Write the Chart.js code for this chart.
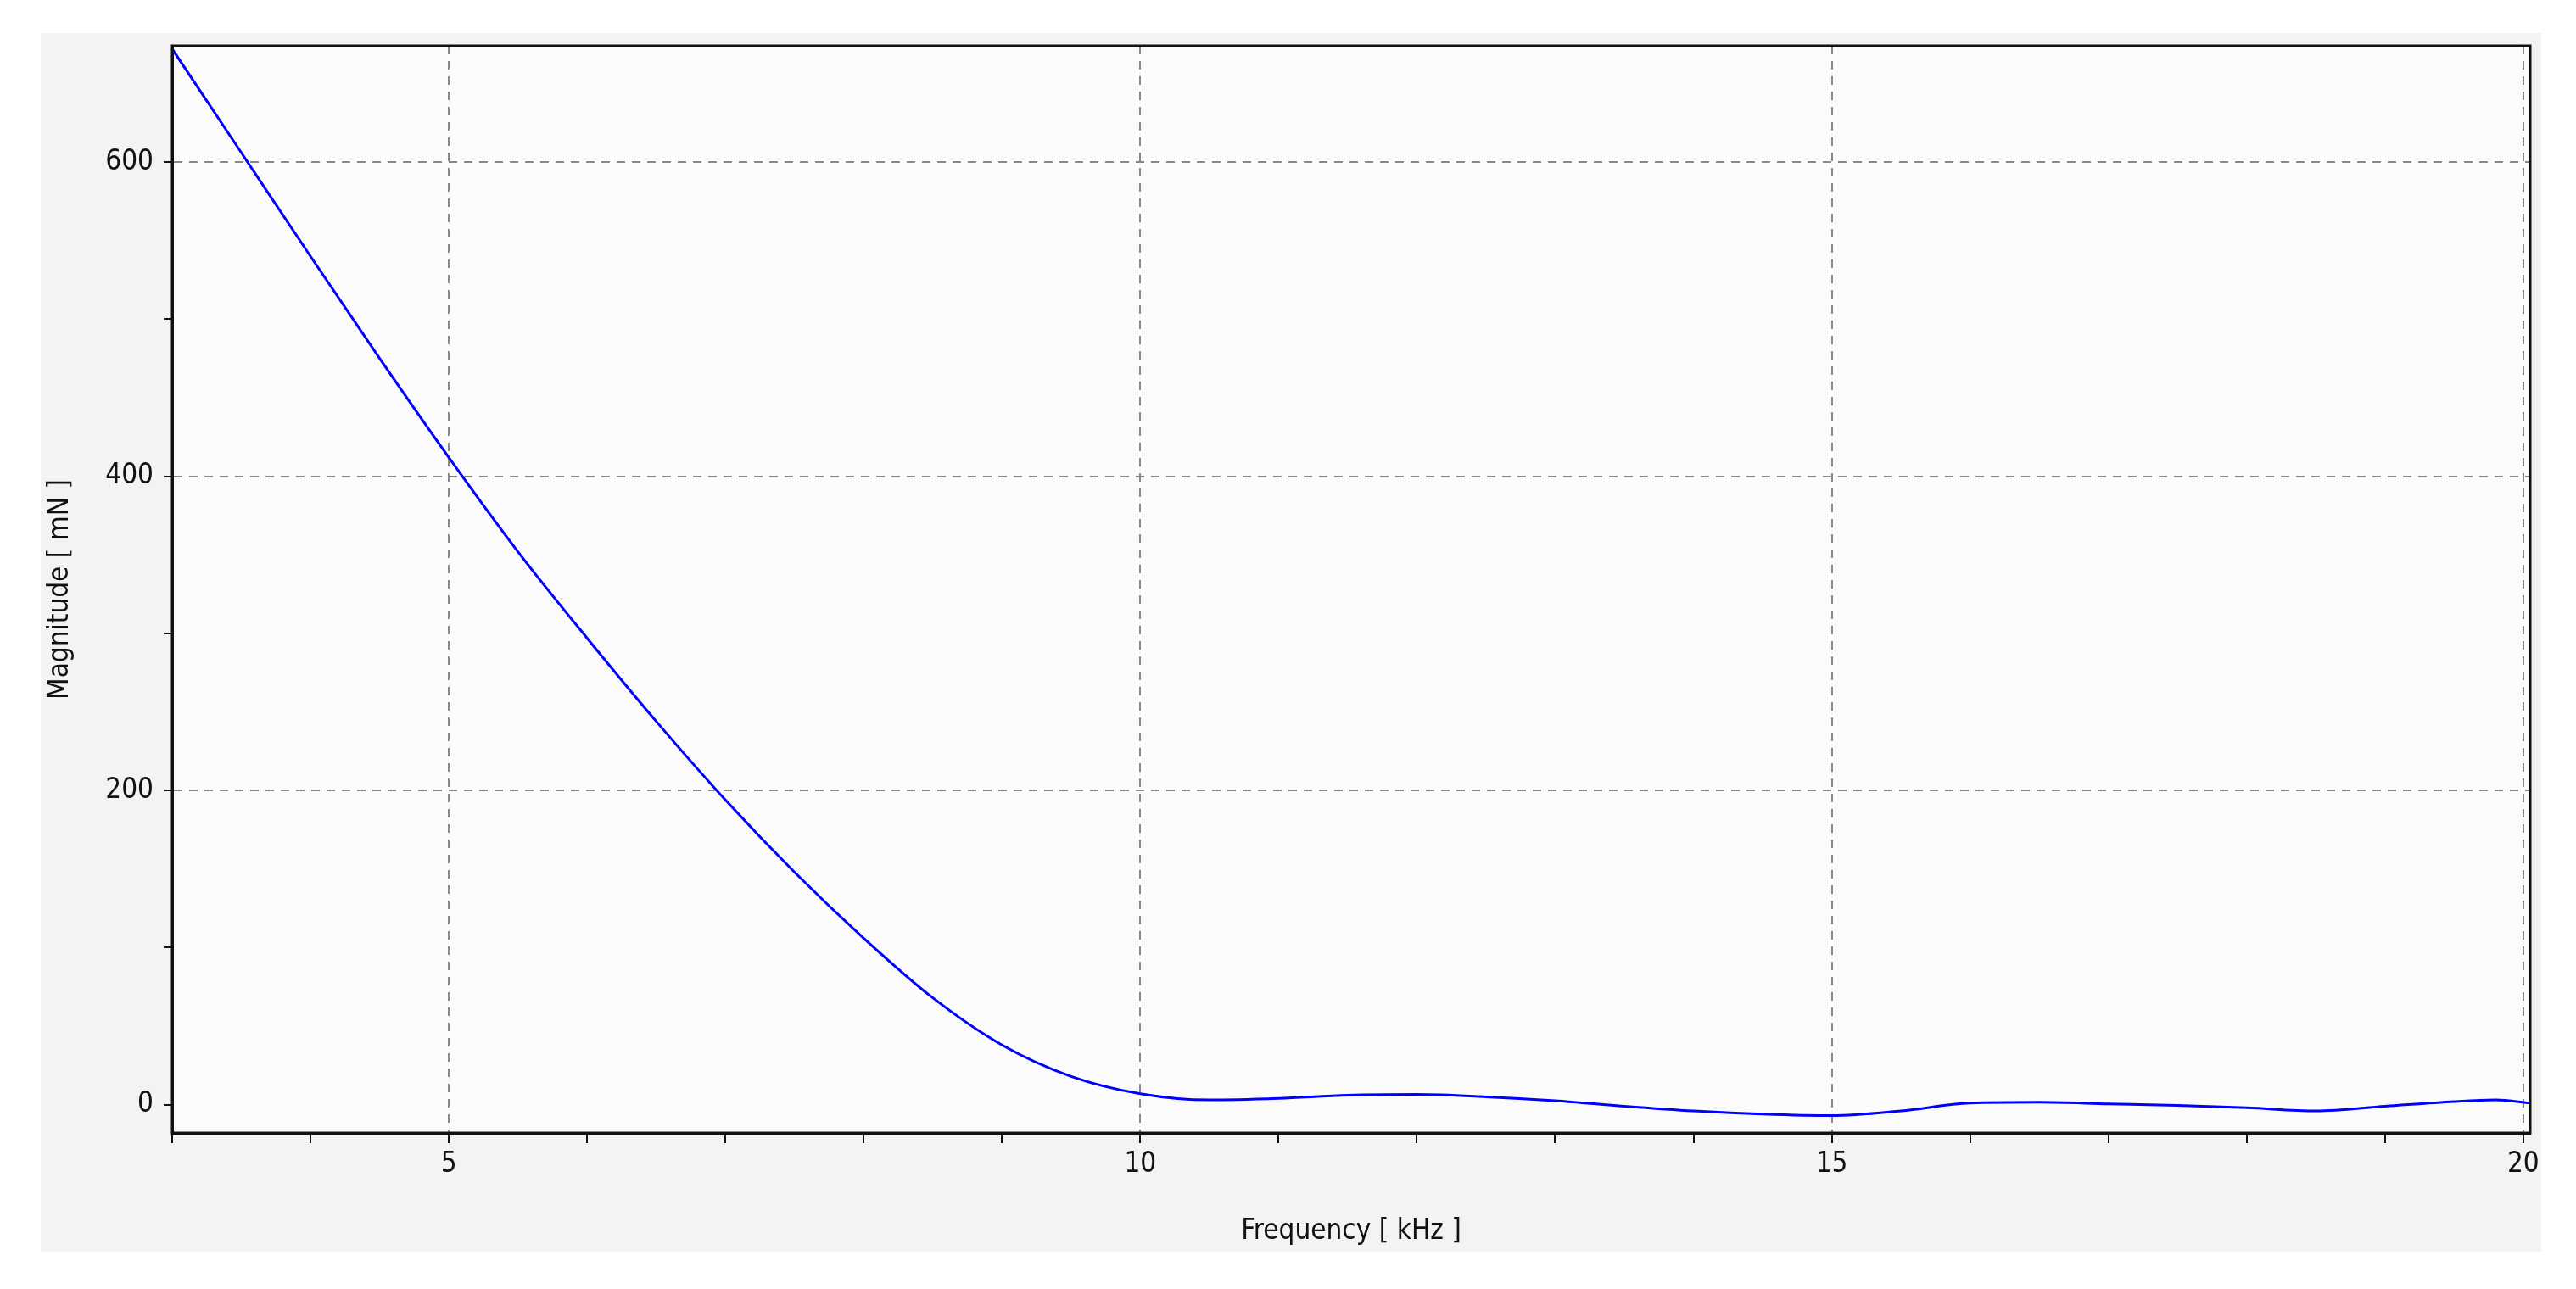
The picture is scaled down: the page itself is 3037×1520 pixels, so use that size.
<!DOCTYPE html>
<html><head><meta charset="utf-8">
<script src="https://cdn.jsdelivr.net/npm/chart.js@4.4.0/dist/chart.umd.min.js"></script>
<style>html,body{margin:0;padding:0;background:#fff}#wrap{width:3037px;height:1520px}</style>
</head><body><div id="wrap"><canvas id="c"></canvas></div>
<script>
// frequency [kHz] and magnitude [mN]
const freqKHz = [3, 3.5, 4, 4.5, 5, 5.5, 6, 6.5, 7, 7.5, 8, 8.5, 9, 9.5, 10, 10.5, 11, 11.5, 12, 12.5, 13, 13.5, 14, 14.5, 15, 15.5, 16, 16.5, 17, 17.5, 18, 18.5, 19, 19.5, 19.8, 20.05];
const magnitude = [672, 606, 540, 475, 412, 352, 297, 244, 194, 148, 106, 68, 38, 18, 7, 3, 4, 6, 6.5, 5, 2.5, -1, -4, -6, -7, -4, 1, 1.5, 0.5, -0.5, -2, -4, -1, 2, 3, 1];
const xMajor = [5, 10, 15, 20];
const xTicks = [3, 4, 5, 6, 7, 8, 9, 10, 11, 12, 13, 14, 15, 16, 17, 18, 19, 20];
const yMajor = [0, 200, 400, 600];
const yTicks = [0, 100, 200, 300, 400, 500, 600];

const panel = {
  id: 'panel',
  beforeDraw(ch){
    const g = ch.ctx, a = ch.chartArea;
    g.save();
    g.fillStyle = '#f3f3f3'; g.fillRect(48, 39, 2948, 1437);
    g.fillStyle = '#fbfbfb'; g.fillRect(a.left, a.top, a.right - a.left, a.bottom - a.top);
    g.restore();
  },
  afterDraw(ch){
    const g = ch.ctx, a = ch.chartArea;
    g.save(); g.strokeStyle = '#111'; g.lineWidth = 3; g.setLineDash([]);
    g.strokeRect(a.left, a.top, a.right - a.left, a.bottom - a.top);
    g.restore();
  }
};

const font = { family: 'DejaVu Sans Condensed, Liberation Sans', size: 33 };

new Chart(document.getElementById('c'), {
  type: 'line',
  data: { datasets: [{ data: freqKHz.map((f, i) => ({ x: f, y: magnitude[i] })), borderColor: '#0000ff', borderWidth: 3, pointRadius: 0, cubicInterpolationMode: 'monotone' }] },
  options: {
    responsive: true, maintainAspectRatio: false, animation: false,
    layout: { padding: { left: 48, top: 54, right: 54, bottom: 44 } },
    plugins: { legend: { display: false }, tooltip: { enabled: false } },
    scales: {
      x: {
        type: 'linear', min: 3, max: 20.05,
        afterBuildTicks: s => { s.ticks = xTicks.map(v => ({ value: v })); },
        afterFit: s => { s.height = 140; },
        ticks: { autoSkip: false, maxRotation: 0, color: '#111', font, padding: 6,
          callback: v => xMajor.includes(v) ? String(v) : '' },
        grid: { color: c => xMajor.includes(c.tick && c.tick.value) ? '#888' : 'rgba(0,0,0,0)', lineWidth: 2, tickColor: '#111', tickLength: 12, tickBorderDash: [] },
        border: { color: '#111', width: 3, dash: [10, 8] },
        title: { display: true, text: 'Frequency [ kHz ]', color: '#111', font, padding: { top: 10 } }
      },
      y: {
        min: -18, max: 674,
        afterBuildTicks: s => { s.ticks = yTicks.map(v => ({ value: v })); },
        afterFit: s => { s.width = 155; },
        ticks: { autoSkip: false, color: '#111', font, padding: 12,
          callback: v => yMajor.includes(v) ? String(v) : '' },
        grid: { color: c => (yMajor.includes(c.tick && c.tick.value) && c.tick.value !== 0) ? '#888' : 'rgba(0,0,0,0)', lineWidth: 2, tickColor: '#111', tickLength: 10, tickBorderDash: [] },
        border: { color: '#111', width: 3, dash: [10, 8] },
        title: { display: true, text: 'Magnitude [ mN ]', color: '#111', font, padding: { bottom: 4 } }
      }
    }
  },
  plugins: [panel]
});
</script></body></html>
